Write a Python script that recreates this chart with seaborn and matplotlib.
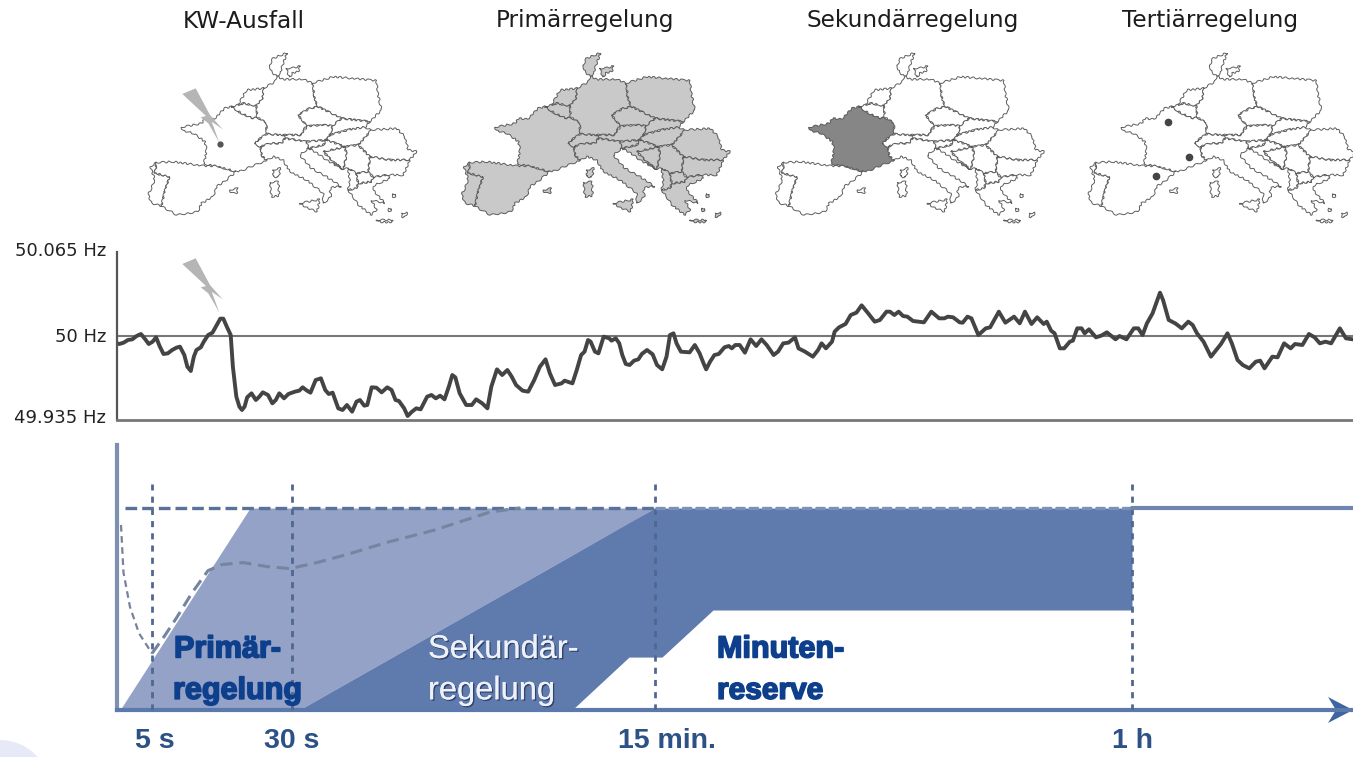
import matplotlib
matplotlib.use("Agg")
import matplotlib.pyplot as plt
import matplotlib.patheffects as pe
from matplotlib.patches import Polygon, Ellipse
from matplotlib.transforms import ScaledTranslation
import numpy as np
import pandas as pd
import seaborn as sns

# ---------- data ----------
titles = ["KW-Ausfall", "Primärregelung", "Sekundärregelung", "Tertiärregelung"]
title_centres = [244, 585, 913, 1210]
map_offsets = [-313.5, 0, 314, 626.5]
map_fills = ["white", "#c6c6c6", "white", "white"]

france = [(165,262),(225,250),(235,235),(262,238),(295,205),(315,200),(345,220),(380,235),(392,232),(420,248),(420,282),(395,300),(385,312),(402,320),(405,345),(420,362),(385,375),(345,392),(328,395),(270,378),(232,372),(240,330),(235,305),(200,280),(170,272)]
spain = [(90,368),(140,365),(232,378),(270,378),(328,395),(300,420),(270,440),(260,470),(225,490),(215,515),(150,525),(125,510),(105,498),(115,450),(130,410),(85,400)]
portugal = [(72,380),(90,368),(85,400),(130,410),(115,450),(105,498),(75,490),(65,465),(85,420)]
germany = [(412,145),(445,125),(450,108),(470,118),(530,118),(558,130),(565,180),(575,200),(550,205),(515,225),(540,258),(530,272),(525,285),(470,285),(420,282),(420,248),(392,232),(390,197),(408,175)]
denmark = [(430,75),(440,55),(482,38),(468,75),(462,100),(450,108),(435,95)]
danish_isles = [(478,85),(495,85),(522,78),(515,95),(497,100),(490,112)]
netherlands = [(335,195),(360,150),(412,145),(408,175),(390,197),(350,190)]
belgium = [(315,200),(335,195),(350,190),(390,197),(392,232),(380,235),(345,220)]
poland = [(558,130),(620,110),(750,122),(755,165),(765,210),(730,245),(645,235),(575,200),(565,180)]
czechia = [(515,225),(550,205),(575,200),(645,235),(618,258),(590,255),(545,258),(540,258)]
slovakia = [(618,258),(645,235),(730,245),(715,262),(670,268),(610,285)]
austria = [(470,285),(525,285),(530,272),(545,258),(590,255),(618,258),(610,285),(600,300),(540,305),(475,295)]
switzerland = [(395,300),(420,282),(470,285),(475,295),(465,310),(430,310),(402,320),(385,312)]
hungary = [(610,285),(670,268),(715,262),(735,270),(695,315),(655,320),(600,300)]
romania = [(735,270),(810,265),(835,290),(845,330),(870,335),(850,360),(790,360),(730,350),(695,315)]
bulgaria = [(730,350),(790,360),(850,360),(830,405),(780,405),(740,412),(725,395)]
serbia = [(655,320),(695,315),(730,350),(725,395),(690,400),(665,385),(650,388),(660,345)]
bosnia = [(590,335),(655,320),(660,345),(650,388),(620,365)]
croatia = [(545,325),(590,315),(600,300),(655,320),(590,335),(620,365),(650,388),(600,360),(565,335)]
slovenia = [(540,305),(600,300),(590,315),(545,325)]
italy = [(402,320),(430,310),(465,310),(475,295),(540,305),(545,325),(520,345),(555,385),(600,410),(645,440),(620,440),(610,450),(615,470),(590,490),(590,460),(540,420),(490,395),(470,360),(440,350),(420,362),(405,345)]
sicily = [(520,490),(580,478),(572,515),(545,505)]
sardinia = [(430,428),(456,425),(458,468),(435,470)]
corsica = [(440,390),(462,385),(456,412),(440,410)]
balearic = [(310,450),(335,445),(330,460),(315,460)]
greece = [(665,450),(690,445),(695,430),(735,425),(740,412),(780,405),(790,415),(745,435),(740,450),(775,490),(735,480),(750,510),(735,525),(715,510),(695,495),(680,470)]
albania = [(665,385),(690,400),(695,430),(690,445),(665,450),(670,420)]
macedonia = [(690,400),(725,395),(740,412),(735,425),(695,430)]
crete = [(750,540),(800,540),(790,548),(755,545)]
aegean_a = [(798,462),(808,462),(806,470),(799,470)]
aegean_b = [(785,505),(795,505),(793,512),(786,512)]
aegean_c = [(825,520),(842,518),(835,532),(826,530)]
countries = [portugal, spain, france, belgium, netherlands, germany, denmark, danish_isles, poland,
             czechia, slovakia, austria, switzerland, hungary, romania, bulgaria, serbia, bosnia,
             croatia, slovenia, italy, sicily, sardinia, corsica, balearic, greece, albania,
             macedonia, crete, aegean_a, aegean_b, aegean_c]

bolt = [(157,252),(197,235),(240,315),(278,358),(245,335),(268,398),(235,340),(212,322),(228,318)]
plant_dot = (220, 144)
reserve_dots = [(1168, 122), (1189, 157), (1156, 176)]

trace_a_pos = [265,275,285,295,305,315,325,335,343,352,360,368,377,387,397,407,415,425,432,440,447,453,463,470,480,490,500,508,515,523,532,537,545,552,558,564,570,580,590,598,606,618,628,636,644,655,665,680,690,698,708,716,728,740,750,758,767,780,790,800,812,822,830,840,847,857,868,880,893,903,912,920,932,940,950,960,970,985,995,1005,1015,1025,1035,1043,1050,1060,1075,1088,1098,1112,1124,1133,1146,1158,1170,1180,1190,1205,1218,1232,1245,1258,1268,1280,1295,1302,1320,1330,1340,1348,1356,1362,1372,1380,1392,1405,1410,1420,1428,1435,1443,1452,1462,1472,1480,1492,1505,1515,1527,1537,1545]
trace_a_level = [308,312,308,300,298,288,282,298,312,305,292,318,342,340,330,323,320,345,380,393,350,330,322,305,285,278,255,236,236,260,285,380,470,500,510,500,472,460,480,470,457,465,490,480,460,475,462,455,452,442,452,458,420,415,450,462,458,505,510,495,515,485,480,497,495,442,443,457,442,450,480,483,505,528,515,505,508,470,465,475,467,478,440,405,412,460,495,495,478,490,505,440,388,405,390,410,435,452,455,420,380,358,400,435,430,422,430,390,345,335,300,305,335,340,290,295,302,295,310,345,372,375,362,358,342,330,343,375,388,350,285]
trace_b_pos = [8,15,25,45,57,68,77,83,92,102,112,125,135,142,150,160,172,185,198,210,222,238,248,260,272,287,295,310,328,340,348,358,372,378,388,403,415,428,440,455,470,482,497,505,515,525,535,545,558,583,600,618,630,638,650,665,672,683,692,708,725,735,755,770,790,803,815,830,843,858,865,875,883,895,905,918,925,935,945,952,962,978,990,1003,1023,1032,1048,1065,1075,1085,1095,1108,1125,1132,1145,1160,1175,1190,1200,1210,1225,1242,1265,1280,1290,1303,1315,1330,1345,1355,1365,1383,1395,1410,1425,1435,1452,1467,1480,1492,1505,1518,1538,1552,1568]
trace_b_level = [280,310,335,337,315,340,370,388,365,345,342,322,318,325,315,315,338,298,318,298,315,345,335,310,308,292,325,335,350,330,310,325,305,275,262,252,225,218,196,220,245,240,215,215,225,215,228,230,243,247,215,235,235,230,232,247,248,230,235,285,265,262,215,248,230,250,215,252,232,252,245,272,280,325,325,305,302,265,265,280,268,292,287,277,298,288,298,265,265,285,250,220,158,180,240,250,265,245,255,280,305,350,312,280,310,360,375,385,365,362,385,350,352,310,325,312,315,282,292,310,305,310,265,295,298]
freq_ticks = [50.065, 50.0, 49.935]
freq_tick_labels = ["50.065 Hz", "50 Hz", "49.935 Hz"]

time_ticks = [35, 175, 538, 1015]
time_labels = ["5 s", "30 s", "15 min.", "1 h"]
primary_t = [3, 133, 182, 538]
primary_upper = [0, 100, 100, 100]
primary_lower = [0, 0, 0, 100]
secondary_t = [182, 455, 512, 538, 545, 596, 1015]
secondary_upper = [0, 76.7, 92.8, 100, 100, 100, 100]
secondary_lower = [0, 0, 26.2, 26.2, 26.2, 49.5, 49.5]
dip_t = [4, 6.5, 13, 22, 35]
dip_p = [91.6, 68, 51, 38, 28]
recovery_t = [35, 48, 60, 75, 91, 105, 126, 150, 173, 200, 230, 270, 317, 373, 403]
recovery_p = [28, 37, 46, 58, 69, 72, 73, 71, 70, 73, 77, 83, 89, 98, 100]
limit_t = [8, 538]
limit_p = [100, 100]
after_t = [1015, 1236]
after_p = [100, 100]

# ---------- figure ----------
sns.set_theme(style="white")
W, H = 1353, 757
fig = plt.figure(figsize=(W / 100, H / 100), dpi=100, facecolor="white")

def rect(left, top, right, bottom):
    return [left / W, 1 - bottom / H, (right - left) / W, (bottom - top) / H]

# overlay in pixel space for the map sketches
ov = fig.add_axes([0, 0, 1, 1], zorder=0)
ov.set_xlim(0, W); ov.set_ylim(H, 0); ov.axis("off")

for name, cx in zip(titles, title_centres):
    ov.text(cx, 21, name, ha="center", va="center", fontsize=16.7, color="#1c1c1c",
            family="DejaVu Sans")

for k, (dx, fill) in enumerate(zip(map_offsets, map_fills)):
    for c in countries:
        pts = np.array(c, dtype=float) / 3 + np.array([440 + dx, 40])
        face = "#808080" if (k == 2 and c is france) else fill
        p = Polygon(pts, closed=True, facecolor=face, edgecolor="#555555", lw=0.7, alpha=0.95)
        p.set_sketch_params(scale=0.9, length=7, randomness=2.5)
        ov.add_patch(p)

bolt_xy = np.array(bolt, dtype=float) / 3 + np.array([130, 10])
ov.add_patch(Polygon(bolt_xy, closed=True, facecolor="#b5b5b5", edgecolor="none", zorder=5))
ov.add_patch(Polygon(bolt_xy + np.array([0, 170]), closed=True, facecolor="#b5b5b5", edgecolor="none", zorder=5))
ov.plot(*plant_dot, "o", ms=3.5, color="#555555", zorder=6)
for d in reserve_dots:
    ov.plot(*d, "o", ms=4.5, color="#444444", zorder=6)
ov.add_patch(Ellipse((0, 790), 100, 100, facecolor="#e6eaf7", edgecolor="none"))
ov.add_patch(Polygon([(1328, 697), (1353, 710), (1328, 723), (1336, 710)], closed=True,
                     facecolor="#3d659f", edgecolor="none", zorder=8))

# frequency trace
ax = fig.add_axes(rect(117, 252, 1353, 420), zorder=1)
ax.patch.set_alpha(0)
t_all = np.r_[np.array(trace_a_pos) / 2.306 - 117, 670 - 117 + np.array(trace_b_pos) / 2.296]
lev = np.r_[trace_a_level, trace_b_level]
df = pd.DataFrame({"t": t_all, "f": 50 + (288 - lev) / 252 * 0.065})
ax.axhline(50, color="#777777", lw=1.5, zorder=1)
sns.lineplot(data=df, x="t", y="f", ax=ax, estimator=None, sort=False, color="#444444", lw=2.8, zorder=2)
ax.set_xlim(0, 1236); ax.set_ylim(49.935, 50.065)
ax.set_xlabel(""); ax.set_ylabel(""); ax.set_xticks([])
ax.set_yticks(freq_ticks)
ax.set_yticklabels(freq_tick_labels, fontsize=13, color="#222222", family="DejaVu Sans")
ax.tick_params(axis="y", length=0, pad=8)
for s in ["top", "right"]:
    ax.spines[s].set_visible(False)
ax.spines["left"].set_color("#555555"); ax.spines["left"].set_linewidth(1.6)
ax.spines["bottom"].set_color("#777777"); ax.spines["bottom"].set_linewidth(2)
for lbl, dy in zip(ax.get_yticklabels(), [2, 1, 3]):
    lbl.set_transform(lbl.get_transform() + ScaledTranslation(0, dy / 72, fig.dpi_scale_trans))

# reserve activation panel
bx = fig.add_axes(rect(117, 445, 1353, 710), zorder=2)
bx.patch.set_alpha(0)
bx.set_xlim(0, 1236); bx.set_ylim(0, 131.2)
bx.fill_between(primary_t, primary_lower, primary_upper, color="#93a2c6", lw=0, zorder=1)
bx.fill_between(secondary_t, secondary_lower, secondary_upper, color="#5f7aad", lw=0, zorder=2)
guide = "#50688f"
for t in time_ticks:
    bx.plot([t, t], [0, 112], color=guide, lw=2, ls=(0, (2.2, 2.2)), zorder=3)
sns.lineplot(x=limit_t, y=limit_p, ax=bx, color="#5a7199", lw=2.4, ls=(0, (3.5, 1.5)), zorder=4)
sns.lineplot(x=[538, 1015], y=[100, 100], ax=bx, color="#7b90b8", lw=2.4, ls=(0, (3, 1)), zorder=4)
sns.lineplot(x=after_t, y=after_p, ax=bx, color="#6f86b0", lw=3, zorder=4)
sns.lineplot(x=dip_t, y=dip_p, ax=bx, color="#77839c", lw=1.6, ls=(0, (3, 2)), sort=False, zorder=4)
sns.lineplot(x=recovery_t, y=recovery_p, ax=bx, color="#75849f", lw=2.2, ls=(0, (4, 2.2)), sort=False, zorder=4)
bx.set_xlabel(""); bx.set_ylabel(""); bx.set_yticks([])
bx.set_xticks(time_ticks)
bx.set_xticklabels(time_labels, fontsize=20.5, fontweight="bold", color="#2c5186", family="Liberation Sans")
bx.tick_params(axis="x", length=0, pad=13)
for lbl, dx in zip(bx.get_xticklabels(), [3, 0, 12, 0]):
    lbl.set_transform(lbl.get_transform() + ScaledTranslation(dx / 100, 0, fig.dpi_scale_trans))
for s in ["top", "right"]:
    bx.spines[s].set_visible(False)
bx.spines["left"].set_color("#7d90b2"); bx.spines["left"].set_linewidth(3)
bx.spines["bottom"].set_color("#5c79ab"); bx.spines["bottom"].set_linewidth(3)

dark_fx = [pe.withStroke(linewidth=1.2, foreground="#0d3f8c")]
light_fx = [pe.withSimplePatchShadow(offset=(1, -1), shadow_rgbFace="#2b3f66", alpha=0.9), pe.Normal()]
for (x, y, s, fs) in [(57, 30, "Primär-", 22), (56, 9.5, "regelung", 22), (600, 30, "Minuten-", 22), (600, 9.5, "reserve", 21.5)]:
    bx.text(x, y, s, fontsize=fs, fontweight="bold", color="#0d3f8c", family="Liberation Sans",
            va="center", ha="left", path_effects=dark_fx, zorder=7)
for (x, y, s) in [(311, 30, "Sekundär-"), (311, 9.5, "regelung")]:
    bx.text(x, y, s, fontsize=23.5, color="#eef1f8", family="Liberation Sans", va="center", ha="left",
            path_effects=light_fx, zorder=7)

fig.savefig("out.png", dpi=100, facecolor="white")
